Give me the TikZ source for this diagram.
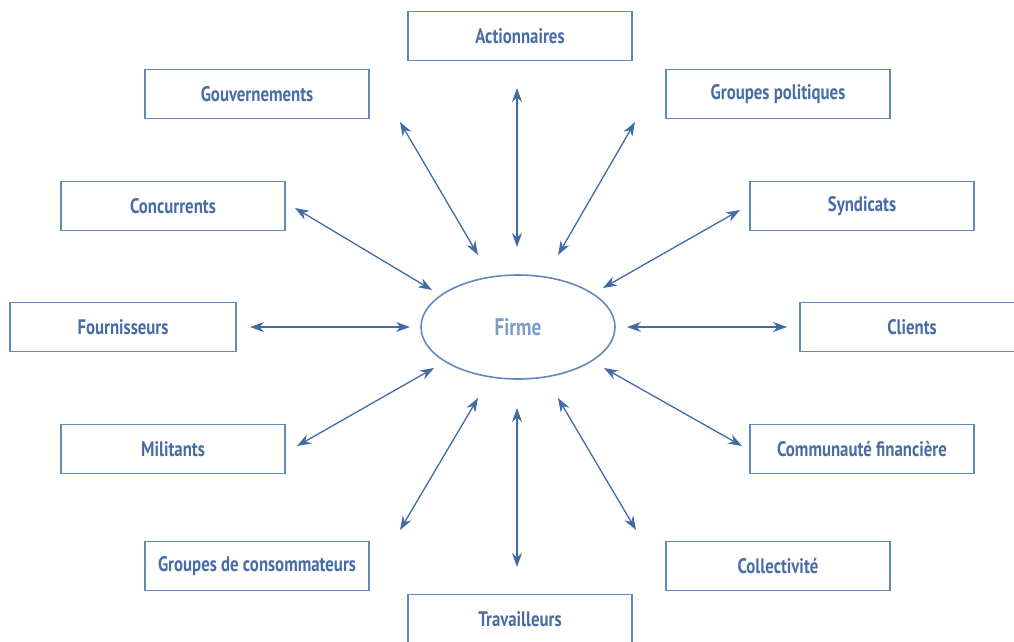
\documentclass[tikz,border=0pt]{standalone}
\usepackage{fontspec}
\setmainfont{PT Sans}[FakeStretch=0.8]
\usetikzlibrary{arrows.meta,shapes.geometric}
\definecolor{boxblue}{HTML}{6189BE}
\definecolor{txtblue}{HTML}{486CA3}
\definecolor{arrblue}{HTML}{3F6BA8}
\definecolor{firmblue}{HTML}{7D9BC8}
\tikzset{
  party/.style={draw=boxblue, line width=1.5pt, minimum width=224pt, minimum height=49pt,
    inner sep=0pt, text=txtblue, font=\fontsize{21}{24}\selectfont\bfseries},
  link/.style={draw=arrblue, line width=1.3pt,
    {Stealth[length=14pt,width=10pt]}-{Stealth[length=14pt,width=10pt]}}
}
\begin{document}
\begin{tikzpicture}[x=1pt,y=-1pt]
\useasboundingbox (0,0) rectangle (1014,641);
\clip (0,0) rectangle (1014,641);

% central firm
\node[draw=boxblue, line width=1.6pt, ellipse, minimum width=194pt, minimum height=104pt,
  inner sep=0pt, text=firmblue, font=\fontsize{24}{28}\selectfont\bfseries] (firme) at (518,327) {Firme};

% stakeholders
\node[party] (action) at (520,36) {Actionnaires};
\node[party] (gouv) at (257,94) {Gouvernements};
\node[party] (gpol) at (778,94) {Groupes politiques};
\node[party] (conc) at (173,206) {Concurrents};
\node[party] (synd) at (862,206) {Syndicats};
\node[party, minimum width=226pt] (fourn) at (123,327) {Fournisseurs};
\node[party] (clients) at (912,327) {Clients};
\node[party] (milit) at (173,449) {Militants};
\node[party] (comfin) at (862,449) {Communauté financière};
\node[party] (gcons) at (257,566) {Groupes de consommateurs};
\node[party] (collec) at (778,566) {Collectivité};
\node[party] (trav) at (520,619) {Travailleurs};

% arrow end points
\coordinate (a1) at (517,88);  \coordinate (b1) at (517,247);
\coordinate (a2) at (400,122); \coordinate (b2) at (478,255);
\coordinate (a3) at (635,122); \coordinate (b3) at (558,255);
\coordinate (a4) at (295,208); \coordinate (b4) at (432,290);
\coordinate (a5) at (740,210); \coordinate (b5) at (603,288);
\coordinate (a6) at (250,327); \coordinate (b6) at (410,327);
\coordinate (a7) at (787,327); \coordinate (b7) at (627,327);
\coordinate (a8) at (297,446); \coordinate (b8) at (434,368);
\coordinate (a9) at (742,446); \coordinate (b9) at (604,368);
\coordinate (a10) at (400,530); \coordinate (b10) at (478,398);
\coordinate (a11) at (636,530); \coordinate (b11) at (558,398);
\coordinate (a12) at (517,567); \coordinate (b12) at (517,408);

\foreach \i in {1,...,12}{
  \draw[link] (a\i) -- (b\i);
}
\end{tikzpicture}
\end{document}
